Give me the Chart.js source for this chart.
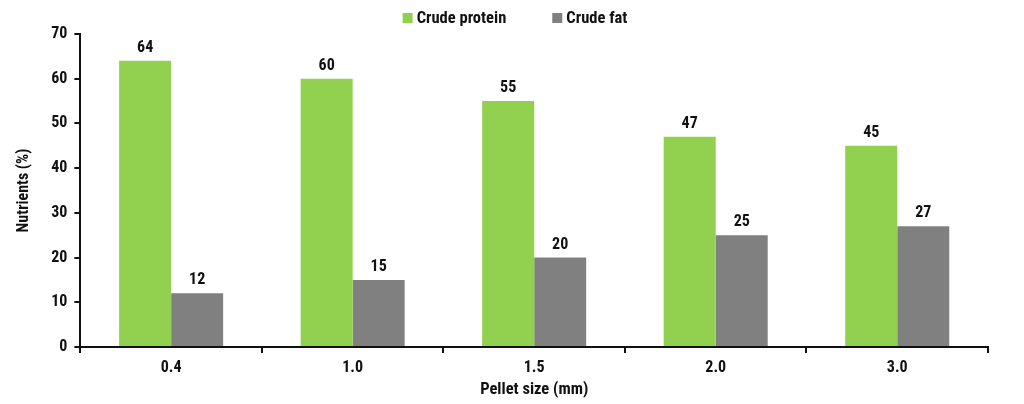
<!DOCTYPE html>
<html>
<head>
<meta charset="utf-8">
<script src="https://cdn.jsdelivr.net/npm/chart.js@4"></script>
<style>
html,body{margin:0;padding:0;background:#fff;}
#wrap{width:1024px;height:404px;}
</style>
</head>
<body>
<div id="wrap"><canvas id="c" width="1024" height="404"></canvas></div>
<script>
const categories = ["0.4", "1.0", "1.5", "2.0", "3.0"];
const crudeProtein = [64, 60, 55, 47, 45];
const crudeFat = [12, 15, 20, 25, 27];
const seriesNames = ["Crude protein", "Crude fat"];
const seriesColors = ["#92D050", "#808080"];
const xTitle = "Pellet size (mm)";
const yTitle = "Nutrients (%)";

const FONT = "'Roboto Condensed', 'Liberation Sans Narrow', Roboto, sans-serif";

const valueLabels = {
  id: 'valueLabels',
  afterDatasetsDraw(chart) {
    const ctx = chart.ctx;
    ctx.save();
    ctx.font = "bold 16px " + FONT;
    ctx.fillStyle = "#111";
    ctx.textAlign = "center";
    ctx.textBaseline = "alphabetic";
    chart.data.datasets.forEach((ds, i) => {
      const meta = chart.getDatasetMeta(i);
      meta.data.forEach((bar, j) => {
        ctx.fillText(String(ds.data[j]), bar.x, bar.y - 9);
      });
    });
    ctx.restore();
  }
};

const topLegend = {
  id: 'topLegend',
  afterDraw(chart) {
    const ctx = chart.ctx;
    ctx.save();
    ctx.font = "bold 16.5px " + FONT;
    ctx.textBaseline = "middle";
    ctx.textAlign = "left";
    const box = 10, gapText = 4, gapItem = 46;
    const widths = chart.data.datasets.map(d => ctx.measureText(d.label).width);
    let total = 0;
    widths.forEach((w, i) => { total += box + gapText + w + (i < widths.length - 1 ? gapItem : 0); });
    let x = 515 - total / 2;
    const y = 18;
    chart.data.datasets.forEach((d, i) => {
      ctx.fillStyle = d.backgroundColor;
      ctx.fillRect(x, y - box / 2, box, box);
      x += box + gapText;
      ctx.fillStyle = "#111";
      ctx.fillText(d.label, x, y + 1);
      x += widths[i] + gapItem;
    });
    ctx.restore();
  }
};

new Chart(document.getElementById('c'), {
  type: 'bar',
  data: {
    labels: categories,
    datasets: [
      { label: seriesNames[0], data: crudeProtein, backgroundColor: seriesColors[0], categoryPercentage: 0.573, barPercentage: 1.0 },
      { label: seriesNames[1], data: crudeFat, backgroundColor: seriesColors[1], categoryPercentage: 0.573, barPercentage: 1.0 }
    ]
  },
  options: {
    responsive: false,
    animation: false,
    layout: { padding: { left: 14, right: 36, top: 34, bottom: 4 } },
    plugins: {
      legend: { display: false },
      tooltip: { enabled: false },
      title: { display: false }
    },
    scales: {
      x: {
        grid: { display: true, drawOnChartArea: false, drawTicks: true, tickLength: 6, color: '#111', lineWidth: 2, offset: true },
        border: { display: true, color: '#111', width: 2 },
        ticks: { font: { family: FONT, weight: 'bold', size: 16 }, color: '#111', padding: 5 },
        title: { display: true, text: xTitle, font: { family: FONT, weight: 'bold', size: 16.5 }, color: '#111', padding: { top: -2, bottom: 0 } }
      },
      y: {
        min: 0, max: 70,
        ticks: { stepSize: 10, font: { family: FONT, weight: 'bold', size: 16 }, color: '#111', padding: 7 },
        grid: { display: true, drawOnChartArea: false, drawTicks: true, tickLength: 6, color: '#111', lineWidth: 2 },
        border: { display: true, color: '#111', width: 2 },
        title: { display: true, text: yTitle, font: { family: FONT, weight: 'bold', size: 16 }, color: '#111', padding: { top: 0, bottom: 11 } }
      }
    }
  },
  plugins: [valueLabels, topLegend]
});
</script>
</body>
</html>
